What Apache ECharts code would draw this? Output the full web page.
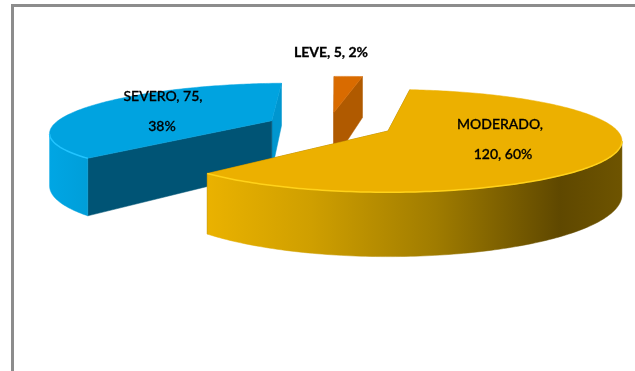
<!DOCTYPE html>
<html><head><meta charset="utf-8">
<style>html,body{margin:0;padding:0;background:#fff}#c{width:635px;height:371px}</style>
<script src="https://cdn.jsdelivr.net/npm/echarts@6/dist/echarts.min.js"></script>
</head><body><div id="c"></div>
<script>
var categories = ['MODERADO', 'SEVERO', 'LEVE'];
var values = [120, 75, 5];
var percentLabels = ['60%', '38%', '2%'];

var labelLines = [['MODERADO,', '120, ' + percentLabels[0]], ['SEVERO, 75,', percentLabels[1]], ['LEVE, 5, ' + percentLabels[2]]];
var labelX = [[500, 503], [163, 162], [331]];
var labelY = [[124, 154], [96, 126], [52]];
var labelWeight = [500, 500, 700];

var firstAngle = 6.5, explodeBy = [0.29, 0.28, 0.28], radiusBy = [1, 0.97, 1];
var view = { x: 388, y: 131, sx: 229.6, sy: 49.5, persp: 0.192, depth: 52 };
var topColor = ['#ECB000', '#00A3E0', '#D96B00'];
var startCutColor = ['#8a6800', '#005475', '#B05A00'];
var endCutColor = ['#8a6800', '#0096CF', '#B05A00'];
var rimEdge = ['#FFD21A', '#22C4FF', '#E58A20'];
var rimFill = [
  { type: 'linear', x: 0, y: 0, x2: 1, y2: 0, colorStops: [
    { offset: 0, color: '#EAB200' }, { offset: 0.25, color: '#CF9F00' }, { offset: 0.55, color: '#A07C00' },
    { offset: 0.85, color: '#5F4800' }, { offset: 1, color: '#6E5400' }] },
  { type: 'linear', x: 0, y: 0, x2: 1, y2: 0, colorStops: [
    { offset: 0, color: '#00A6E4' }, { offset: 1, color: '#009ED9' }] },
  '#B05A00'
];

var total = values.reduce(function (a, b) { return a + b; }, 0);
var starts = [], acc = firstAngle;
values.forEach(function (v) { starts.push(acc); acc += v / total * 360; });
var rad = Math.PI / 180;
var midOf = function (i) { return (starts[i] + values[i] / total * 180) * rad; };
var offX = function (i) { return explodeBy[i] * Math.sin(midOf(i)) - explodeBy[0] * Math.sin(midOf(0)); };
var offZ = function (i) { return explodeBy[i] * Math.cos(midOf(i)) - explodeBy[0] * Math.cos(midOf(0)); };

function project(i, r, deg, low) {
  var x = offX(i) + r * radiusBy[i] * Math.sin(deg * rad), z = offZ(i) + r * radiusBy[i] * Math.cos(deg * rad);
  var w = 1 + view.persp * z;
  return [view.x + view.sx * x / w, view.y - view.sy * z / w + (low ? view.depth / w : 0)];
}
function poly(points, fill, z2) {
  return { type: 'polygon', z2: z2, shape: { points: points }, style: { fill: fill, stroke: fill, lineWidth: 0.5 } };
}
function renderSlice(params, api) {
  var i = api.value(1), v = api.value(0);
  var a0 = starts[i], a1 = a0 + v / total * 360, n = Math.max(4, Math.round(a1 - a0));
  var kids = [], topPts = [project(i, 0, a0)], base = (2 - i) * 10;
  var front = [];
  for (var k = 0; k <= n; k++) {
    var a = a0 + (a1 - a0) * k / n;
    topPts.push(project(i, 1, a));
    if (project(i, 1, a + 0.5)[0] < project(i, 1, a)[0]) front.push(a);
  }
  [[a1, endCutColor[i]], [a0, startCutColor[i]]].forEach(function (c, j) {
    kids.push(poly([project(i, 0, c[0]), project(i, 1, c[0]), project(i, 1, c[0], true), project(i, 0, c[0], true)], c[1], base + j));
  });
  if (front.length > 1) {
    var up = front.map(function (a) { return project(i, 1, a); });
    var dn = front.map(function (a) { return project(i, 1, a, true); }).reverse();
    kids.push(poly(up.concat(dn), rimFill[i], base + 2));
  }
  kids.push(poly(topPts, topColor[i], base + 3));
  if (front.length > 1) {
    kids.push({ type: 'polyline', z2: base + 4, shape: { points: front.map(function (a) { return project(i, 1, a); }) },
      style: { fill: null, stroke: rimEdge[i], lineWidth: 1.5 } });
  }
  labelLines[i].forEach(function (t, j) {
    kids.push({ type: 'text', z2: 100, style: { text: t, x: labelX[i][j], y: labelY[i][j], align: 'center', verticalAlign: 'middle',
      font: labelWeight[i] + ' 14px Lato, "Open Sans", sans-serif', fill: '#000', stroke: '#000', lineWidth: 0.3 } });
  });
  return { type: 'group', children: kids };
}
var drawOrder = [2, 1, 0];
var chart = echarts.init(document.getElementById('c'), null, { renderer: 'canvas' });
chart.setOption({
  animation: false,
  backgroundColor: '#fff',
  graphic: [{ type: 'rect', silent: true, shape: { x: 12.5, y: 5.5, width: 800, height: 600 },
    style: { fill: '#fff', stroke: '#8C8C8C', lineWidth: 3 }, z: -1 }],
  series: [{ type: 'custom', coordinateSystem: 'none', silent: true, clip: false,
    renderItem: renderSlice,
    data: drawOrder.map(function (i) { return { name: categories[i], value: [values[i], i] }; }) }]
});
</script></body></html>
